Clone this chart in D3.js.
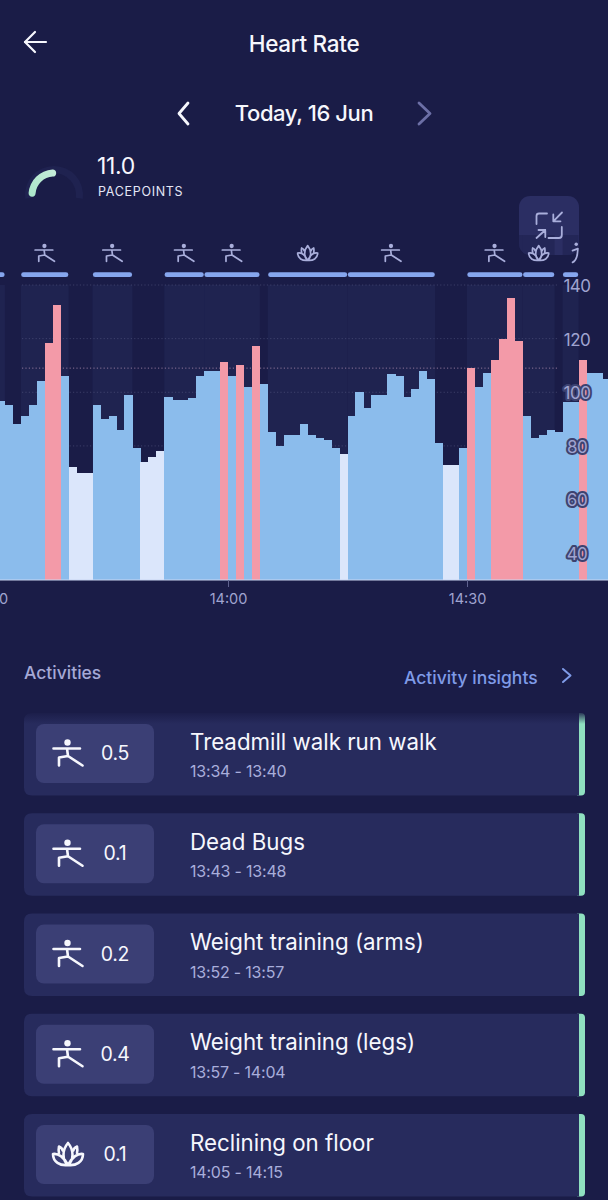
<!DOCTYPE html>
<html>
<head>
<meta charset="utf-8">
<script src="https://cdn.jsdelivr.net/npm/d3@7"></script>
<style>
  html, body { margin: 0; padding: 0; background: #1a1c47; }
  svg { display: block; font-family: Inter, "Noto Sans", sans-serif; }
</style>
</head>
<body>
<svg id="svg-wrapper" width="608" height="1200"></svg>
<script>
const WIDTH = 608;
const HEIGHT = 1200;

// Heart rate, one value per minute, first bar starts at 13:31
const FIRST_MINUTE = [13, 31];
const heartRate = [
  96.9, 95.3, 88.2, 91.2, 95.2, 104.3, 118.3, 132.4, 106.1, 72, 70, 70,
  95.2, 90, 91.2, 86, 99.1, 79.1, 74, 76, 78, 98.2, 97, 97, 98, 106.1,
  108.1, 108.1, 111.2, 106.1, 110.2, 102.1, 117.3, 103.1, 85.1, 80, 84, 84,
  88, 84, 83.1, 82.1, 79.1, 77, 91.1, 100, 94, 99, 99, 107, 106.1, 98.2,
  101.2, 108, 105, 81.1, 73, 73, 79.1, 109.2, 102.1, 107.1, 112.1, 120,
  135.2, 119.3, 91.1, 83.1, 84, 86.1, 85.1, 96.2, 96.2, 112.1, 107.1, 107.1,
  105.1, 105.1
];
const ZONE_HIGH = 109;
const ZONE_LOW = 78.5;

const yTicks = [40, 60, 80, 100, 120, 140];
const gridValues = [80, 100, 120, 140];
const xTicks = ["13:30", "14:00", "14:30"];

// Activity lanes above the chart
const laneStart = ["13:26", "13:34", "13:43", "13:52", "13:57", "14:05", "14:15", "14:30", "14:37", "14:42"];
const laneEnd   = ["13:32", "13:40", "13:48", "13:57", "14:04", "14:15", "14:26", "14:37", "14:41", "14:44"];
const laneIcon  = ["warrior", "warrior", "warrior", "warrior", "warrior", "lotus", "warrior", "warrior", "lotus", "run"];

// Activity list
const activityNames = ["Treadmill walk run walk", "Dead Bugs", "Weight training (arms)", "Weight training (legs)", "Reclining on floor"];
const activityTimes = ["13:34 - 13:40", "13:43 - 13:48", "13:52 - 13:57", "13:57 - 14:04", "14:05 - 14:15"];
const activityPoints = ["0.5", "0.1", "0.2", "0.4", "0.1"];
const activityIcons = ["warrior", "warrior", "warrior", "warrior", "lotus"];

const COLORS = {
  bg: "#1a1c47",
  band: "#1f2350",
  blue: "#8bbcec",
  pink: "#f39aa8",
  light: "#dbe6fb",
  pill: "#86a6ee",
  axis: "#a0a4d0",
  card: "#272b5d",
  inner: "#3b3f75",
  green: "#8fe0c0",
  white: "#f6f7fd",
  sub: "#a9aedb"
};

const svg = d3.select("#svg-wrapper");
const defs = svg.append("defs");

const parseClock = s => {
  const [h, m] = s.split(":").map(Number);
  return new Date(2024, 5, 16, h, m);
};

const x = d3.scaleTime()
  .domain([parseClock("14:00"), parseClock("14:30")])
  .range([228, 467]);

const y = d3.scaleLinear()
  .domain([30, 140])
  .range([580, 285]);

const barTime = i => new Date(2024, 5, 16, FIRST_MINUTE[0], FIRST_MINUTE[1] + i);
const barColor = v => v >= ZONE_HIGH ? COLORS.pink : v <= ZONE_LOW ? COLORS.light : COLORS.blue;

function drawIcon(g, type, size, color) {
  // icons are drawn on a 30 wide grid and scaled
  const k = size / 30;
  const icon = g.append("g")
    .attr("transform", `scale(${k})`)
    .attr("fill", "none")
    .attr("stroke", color)
    .attr("stroke-width", 2.6)
    .attr("stroke-linecap", "round")
    .attr("stroke-linejoin", "round");
  if (type === "warrior") {
    icon.append("circle").attr("cx", -0.5).attr("cy", -10.5).attr("r", 3.2)
      .attr("fill", color).attr("stroke", "none");
    icon.append("path").attr("d", "M-14.5,-4.5H12M-1,-4.5L0,3M0,3L-9,4.5V12.5M0,3L14.5,12.5");
  } else if (type === "lotus") {
    icon.append("path").attr("d",
      "M0,11C-6,6 -6,-4 0,-11C6,-4 6,6 0,11Z" +
      "M-5.2,-3.5C-6,-6 -7.5,-7 -9,-7.5C-9.5,-5 -9.5,-2.5 -9,-1" +
      "M5.2,-3.5C6,-6 7.5,-7 9,-7.5C9.5,-5 9.5,-2.5 9,-1" +
      "M0,11C-8,12 -15,8 -15,0C-10,-1 -4,3 0,11Z" +
      "M0,11C8,12 15,8 15,0C10,-1 4,3 0,11Z");
  } else {
    icon.append("circle").attr("cx", 8.5).attr("cy", -13).attr("r", 2.6)
      .attr("fill", color).attr("stroke", "none");
    icon.append("path").attr("d", "M3,-3.5L11,-6.5L10,3Q8,12 3,14");
  }
}

function chevron(points, color, width) {
  svg.append("path")
    .attr("d", d3.line()(points))
    .attr("fill", "none")
    .attr("stroke", color)
    .attr("stroke-width", width)
    .attr("stroke-linecap", "round")
    .attr("stroke-linejoin", "round");
}

function label(px, py, str, size, color, opts = {}) {
  return svg.append("text")
    .attr("x", px)
    .attr("y", py)
    .attr("dominant-baseline", "central")
    .attr("text-anchor", opts.anchor || "start")
    .attr("font-size", size)
    .attr("font-weight", opts.weight || 400)
    .attr("letter-spacing", opts.spacing || 0)
    .attr("fill", color)
    .text(str);
}

// Header
chevron([[25, 42], [46, 42]], COLORS.white, 2.2);
chevron([[35, 32], [25, 42], [35, 52]], COLORS.white, 2.2);
label(304, 43, "Heart Rate", 22.5, COLORS.white, { anchor: "middle", weight: 500, spacing: -0.3 });
chevron([[188, 103], [179, 113.5], [188, 124]], COLORS.white, 2.8);
label(304, 113, "Today, 16 Jun", 22, COLORS.white, { anchor: "middle", weight: 500, spacing: -0.4 });
chevron([[419, 103], [430, 113.5], [419, 124]], "#6c6fa6", 2.8);

// Pacepoints gauge
const gaugeGrad = defs.append("linearGradient").attr("id", "gauge-grad")
  .attr("x1", 0).attr("y1", 1).attr("x2", 1).attr("y2", 0);
gaugeGrad.append("stop").attr("offset", "0%").attr("stop-color", "#a9e6c9");
gaugeGrad.append("stop").attr("offset", "100%").attr("stop-color", "#c6ecd9");

const gauge = svg.append("g").attr("transform", "translate(54,195)");
gauge.append("path")
  .attr("d", d3.arc().innerRadius(22).outerRadius(29).startAngle(-1.7).endAngle(1.7)())
  .attr("fill", "#1f2250");
gauge.append("path")
  .attr("d", d3.arc().innerRadius(18.5).outerRadius(25.5).cornerRadius(3.5).startAngle(-1.65).endAngle(0.1)())
  .attr("fill", "url(#gauge-grad)");

label(97, 166, "11.0", 23, COLORS.white, { spacing: -0.3 });
label(98, 191, "PACEPOINTS", 12.5, "#e4e6f6", { spacing: 0.7 });

// Activity lanes
const lanes = laneStart.map((s, i) => ({ start: parseClock(s), end: parseClock(laneEnd[i]), icon: laneIcon[i] }));

svg.append("g")
  .selectAll("rect")
  .data(lanes)
  .enter()
  .append("rect")
  .attr("x", d => x(d.start))
  .attr("y", y(140))
  .attr("width", d => x(d.end) - x(d.start))
  .attr("height", y(30) - y(140))
  .attr("fill", COLORS.band);

// Dotted grid behind the bars
const grid = svg.append("g");
grid.selectAll("line.grid")
  .data(gridValues)
  .enter()
  .append("line")
  .attr("class", "grid")
  .attr("x1", 22)
  .attr("x2", 558)
  .attr("y1", d => y(d))
  .attr("y2", d => y(d))
  .attr("stroke", "#6f7199")
  .attr("stroke-opacity", 0.4)
  .attr("stroke-width", 1)
  .attr("stroke-dasharray", "1.2 2.2");
grid.append("line")
  .attr("x1", 22)
  .attr("x2", 558)
  .attr("y1", y(ZONE_HIGH))
  .attr("y2", y(ZONE_HIGH))
  .attr("stroke", "#b08fb0")
  .attr("stroke-opacity", 0.75)
  .attr("stroke-dasharray", "1.2 2.2");

// Bars
svg.append("g")
  .selectAll("rect")
  .data(heartRate)
  .enter()
  .append("rect")
  .attr("x", (d, i) => x(barTime(i)))
  .attr("y", d => y(d))
  .attr("width", (d, i) => x(barTime(i + 1)) - x(barTime(i)) + 0.3)
  .attr("height", d => y(30) - y(d))
  .attr("fill", d => barColor(d))
  .attr("shape-rendering", "crispEdges");

svg.append("line")
  .attr("x1", 0).attr("x2", WIDTH)
  .attr("y1", y(30)).attr("y2", y(30))
  .attr("stroke", "#c9d6f2")
  .attr("stroke-width", 1);

// Time axis
const xAxis = d3.axisBottom(x)
  .tickValues(xTicks.map(parseClock))
  .tickFormat(d3.timeFormat("%H:%M"))
  .tickSize(7)
  .tickPadding(7);
const xAxisG = svg.append("g")
  .attr("transform", `translate(0,${y(30)})`)
  .call(xAxis);
xAxisG.select(".domain").remove();
xAxisG.selectAll("line").attr("stroke", "#5f628f");
xAxisG.selectAll("text")
  .attr("fill", COLORS.axis)
  .attr("font-size", 14.5)
  .attr("font-family", "Inter");

// Expand button, behind the lane icons
const btn = { x: 519, y: 196, w: 60, h: 59 };
svg.append("rect")
  .attr("x", btn.x).attr("y", btn.y)
  .attr("width", btn.w).attr("height", btn.h)
  .attr("rx", 11)
  .attr("fill", "#2b2e63");
defs.append("clipPath").attr("id", "btn-clip")
  .append("rect")
  .attr("x", btn.x).attr("y", btn.y)
  .attr("width", btn.w).attr("height", btn.h)
  .attr("rx", 11);
svg.append("g")
  .attr("clip-path", "url(#btn-clip)")
  .selectAll("rect")
  .data(lanes)
  .enter()
  .append("rect")
  .attr("x", d => x(d.start))
  .attr("y", 235)
  .attr("width", d => x(d.end) - x(d.start))
  .attr("height", 25)
  .attr("fill", COLORS.bg)
  .attr("fill-opacity", 0.4);

const expandIcon = svg.append("g")
  .attr("fill", "none")
  .attr("stroke", COLORS.sub)
  .attr("stroke-width", 1.8)
  .attr("stroke-linecap", "round")
  .attr("stroke-linejoin", "round");
expandIcon.append("path").attr("d", "M536.5,224V216Q536.5,213.5 539,213.5H547");
expandIcon.append("path").attr("d", "M561.8,227V235Q561.8,238 559,238H548.5");
expandIcon.append("path").attr("d", "M562,212.5L553.3,221.3M553.3,214.5V221.3H560.5");
expandIcon.append("path").attr("d", "M536.5,238L545.3,230M538.5,230H545.3V237");

// Lane pills and icons
svg.append("g")
  .selectAll("rect")
  .data(lanes)
  .enter()
  .append("rect")
  .attr("x", d => x(d.start) + 0.3)
  .attr("y", 272.3)
  .attr("width", d => x(d.end) - x(d.start) - 0.6)
  .attr("height", 4.8)
  .attr("rx", 2.4)
  .attr("fill", COLORS.pill);

svg.append("g")
  .selectAll("g")
  .data(lanes)
  .enter()
  .append("g")
  .attr("transform", d => `translate(${(x(d.start) + x(d.end)) / 2},253)`)
  .each(function (d) {
    drawIcon(d3.select(this), d.icon, 20, COLORS.sub);
  });

// Heart rate axis, labels sit on top of the bars
const yAxis = d3.axisRight(y)
  .tickValues(yTicks)
  .tickSize(0)
  .tickPadding(0);
const yAxisG = svg.append("g")
  .attr("transform", "translate(577,1)")
  .call(yAxis);
yAxisG.select(".domain").remove();
yAxisG.selectAll("text")
  .attr("text-anchor", "middle")
  .attr("fill", COLORS.axis)
  .attr("font-size", 17)
  .attr("font-family", "Inter")
  .attr("letter-spacing", -0.5)
  .attr("stroke", d => d <= 100 ? "#3d4270" : "none")
  .attr("stroke-width", 4)
  .attr("stroke-linejoin", "round")
  .attr("paint-order", "stroke");

// Activities section
label(24, 672, "Activities", 17.5, "#a5a9d6", { weight: 500 });
label(404, 677, "Activity insights", 17.5, "#7f9be8", { weight: 500 });
chevron([[563, 669], [570.5, 675.5], [563, 682]], "#7f9be8", 2);

const cardTop = d3.scaleLinear().domain([0, 4]).range([713, 1114]);
const CARD_H = 82.5;

const cards = svg.append("g")
  .selectAll("g")
  .data(activityNames)
  .enter()
  .append("g")
  .attr("transform", (d, i) => `translate(24,${cardTop(i)})`);

cards.append("path")
  .attr("d", `M553,0H557Q561,0 561,4V${CARD_H - 4}Q561,${CARD_H} 557,${CARD_H}H553Z`)
  .attr("fill", COLORS.green);
cards.append("path")
  .attr("d", `M8,0H555V${CARD_H}H8Q0,${CARD_H} 0,${CARD_H - 8}V8Q0,0 8,0Z`)
  .attr("fill", COLORS.card);
cards.append("rect")
  .attr("x", 12).attr("y", 11)
  .attr("width", 118).attr("height", 59)
  .attr("rx", 8)
  .attr("fill", COLORS.inner);
cards.append("g")
  .attr("transform", "translate(44,40)")
  .each(function (d, i) {
    drawIcon(d3.select(this), activityIcons[i], 30, COLORS.white);
  });
cards.append("text")
  .attr("x", 91).attr("y", 40)
  .attr("text-anchor", "middle")
  .attr("dominant-baseline", "central")
  .attr("font-size", 19.5)
  .attr("letter-spacing", -0.3)
  .attr("fill", COLORS.white)
  .text((d, i) => activityPoints[i]);
cards.append("text")
  .attr("x", 166).attr("y", 28)
  .attr("dominant-baseline", "central")
  .attr("font-size", 22.3)
  .attr("fill", COLORS.white)
  .text(d => d);
cards.append("text")
  .attr("x", 166).attr("y", 58)
  .attr("dominant-baseline", "central")
  .attr("font-size", 16)
  .attr("letter-spacing", -0.2)
  .attr("fill", COLORS.sub)
  .text((d, i) => activityTimes[i]);

// First card fades out under the header when the list scrolls
const fade = defs.append("linearGradient").attr("id", "list-fade")
  .attr("x1", 0).attr("y1", 0).attr("x2", 0).attr("y2", 1);
fade.append("stop").attr("offset", "0%").attr("stop-color", COLORS.bg).attr("stop-opacity", 1);
fade.append("stop").attr("offset", "100%").attr("stop-color", COLORS.bg).attr("stop-opacity", 0);
svg.append("rect")
  .attr("x", 20).attr("y", 711)
  .attr("width", 570).attr("height", 13)
  .attr("fill", "url(#list-fade)");
</script>
</body>
</html>
